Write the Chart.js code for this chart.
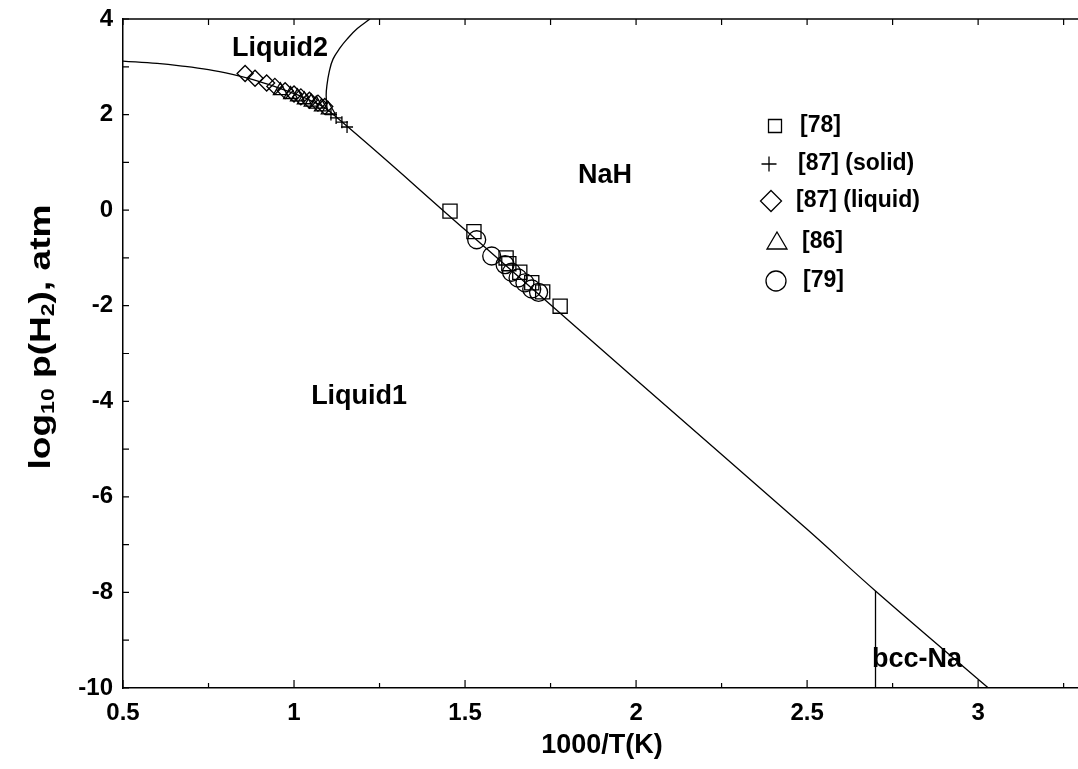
<!DOCTYPE html>
<html>
<head>
<meta charset="utf-8">
<script src="https://cdn.jsdelivr.net/npm/chart.js@4.4.1/dist/chart.umd.min.js"></script>
<style>
  html, body { margin: 0; padding: 0; background: #fff; }
  canvas { display: block; }
</style>
</head>
<body>
<canvas id="phase-chart" width="1078" height="769"></canvas>
<script>
// Axes
const xTicks = [0.5, 1, 1.5, 2, 2.5, 3];
const xMinorTicks = [0.75, 1.25, 1.75, 2.25, 2.75, 3.25];
const yTicks = [-10, -8, -6, -4, -2, 0, 2, 4];
const yMinorTicks = [-9, -7, -5, -3, -1, 1, 3];

// Calculated equilibrium lines
const liquidLineX = [0.5, 0.6, 0.667, 0.75, 0.82, 0.88, 0.95, 1.0, 1.05, 1.1, 1.5, 2.0, 2.5, 2.7, 3.03];
const liquidLineY = [3.12, 3.07, 3.02, 2.94, 2.84, 2.73, 2.57, 2.44, 2.29, 2.09, -0.41, -3.55, -6.68, -7.97, -10.0];

const miscibilityX = [1.097, 1.094, 1.096, 1.103, 1.114, 1.135, 1.155, 1.185, 1.222];
const miscibilityY = [2.09, 2.4, 2.6, 2.9, 3.16, 3.4, 3.58, 3.8, 4.0];

const bccLineX = [2.7, 2.7];
const bccLineY = [-10, -7.97];

// Measured points
const ref78X = [1.456, 1.526, 1.62, 1.628, 1.66, 1.695, 1.727, 1.778];
const ref78Y = [-0.02, -0.45, -1.0, -1.12, -1.3, -1.52, -1.71, -2.01];

const ref87SolidX = [1.108, 1.123, 1.14, 1.155];
const ref87SolidY = [2.0, 1.93, 1.84, 1.74];

const ref87LiquidX = [0.857, 0.886, 0.92, 0.944, 0.974, 1.0, 1.02, 1.045, 1.07, 1.09];
const ref87LiquidY = [2.86, 2.76, 2.66, 2.59, 2.5, 2.43, 2.37, 2.3, 2.24, 2.17];

const ref86X = [0.96, 0.99, 1.01, 1.03, 1.05, 1.065, 1.08, 1.1];
const ref86Y = [2.5, 2.42, 2.37, 2.31, 2.26, 2.22, 2.16, 2.1];

const ref79X = [1.534, 1.578, 1.617, 1.636, 1.655, 1.675, 1.695, 1.715];
const ref79Y = [-0.62, -0.96, -1.14, -1.3, -1.42, -1.52, -1.65, -1.72];

// Phase field names
const regionNames = ["Liquid2", "NaH", "Liquid1", "bcc-Na"];
const regionX = [0.819, 1.83, 1.05, 2.69];
const regionY = [3.22, 0.56, -4.05, -9.56];

const FONT = "'Liberation Sans', Arial, sans-serif";

function toPoints(xs, ys) {
  return xs.map((x, i) => ({ x: x, y: ys[i] }));
}

function lineDataset(xs, ys, smooth) {
  return {
    data: toPoints(xs, ys),
    showLine: true,
    borderColor: "#000",
    borderWidth: 1.3,
    pointRadius: 0,
    tension: smooth ? 0.4 : 0,
    fill: false,
  };
}

function markerDataset(label, xs, ys, style, radius) {
  return {
    label: label,
    data: toPoints(xs, ys),
    showLine: false,
    pointStyle: style,
    pointRadius: radius,
    pointBorderColor: "#000",
    pointBackgroundColor: "rgba(0,0,0,0)",
    pointBorderWidth: 1.3,
  };
}

const markerSets = [
  { label: "[78]", style: "rect", xs: ref78X, ys: ref78Y, r: 10 },
  { label: "[87] (solid)", style: "cross", xs: ref87SolidX, ys: ref87SolidY, r: 6 },
  { label: "[87] (liquid)", style: "rectRot", xs: ref87LiquidX, ys: ref87LiquidY, r: 8 },
  { label: "[86]", style: "triangle", xs: ref86X, ys: ref86Y, r: 8 },
  { label: "[79]", style: "circle", xs: ref79X, ys: ref79Y, r: 9 },
];

// Legend rows (pixel offsets from the canvas)
const legendMarkerX = [775, 769, 771, 777, 776];
const legendTextX = [800, 798, 796, 802, 803];
const legendRowY = [126, 164, 201, 242, 281];

function drawLegendMarker(ctx, style, x, y) {
  ctx.beginPath();
  if (style === "rect") {
    ctx.rect(x - 6.5, y - 6.5, 13, 13);
  } else if (style === "cross") {
    ctx.moveTo(x - 7.5, y);
    ctx.lineTo(x + 7.5, y);
    ctx.moveTo(x, y - 7.5);
    ctx.lineTo(x, y + 7.5);
  } else if (style === "rectRot") {
    ctx.moveTo(x, y - 10.5);
    ctx.lineTo(x + 10.5, y);
    ctx.lineTo(x, y + 10.5);
    ctx.lineTo(x - 10.5, y);
    ctx.closePath();
  } else if (style === "triangle") {
    ctx.moveTo(x, y - 10);
    ctx.lineTo(x + 10, y + 7);
    ctx.lineTo(x - 10, y + 7);
    ctx.closePath();
  } else {
    ctx.arc(x, y, 10, 0, Math.PI * 2);
  }
  ctx.stroke();
}

// Tick marks, frame, titles, region names and legend
const decorations = {
  id: "decorations",
  afterDatasetsDraw(chart) {
    const { ctx, chartArea, scales } = chart;
    const x = scales.x;
    const y = scales.y;
    ctx.save();
    ctx.strokeStyle = "#000";
    ctx.fillStyle = "#000";

    // top frame line
    ctx.lineWidth = 1.5;
    ctx.beginPath();
    ctx.moveTo(chartArea.left, chartArea.top);
    ctx.lineTo(chartArea.right, chartArea.top);
    ctx.stroke();

    ctx.lineWidth = 1.2;
    ctx.beginPath();
    for (const v of xTicks) {
      const px = x.getPixelForValue(v);
      ctx.moveTo(px, chartArea.bottom);
      ctx.lineTo(px, chartArea.bottom - 8);
      ctx.moveTo(px, chartArea.top);
      ctx.lineTo(px, chartArea.top + 6);
    }
    for (const v of xMinorTicks) {
      const px = x.getPixelForValue(v);
      ctx.moveTo(px, chartArea.bottom);
      ctx.lineTo(px, chartArea.bottom - 5);
      ctx.moveTo(px, chartArea.top);
      ctx.lineTo(px, chartArea.top + 6);
    }
    for (const v of yTicks.concat(yMinorTicks)) {
      const py = y.getPixelForValue(v);
      ctx.moveTo(chartArea.left, py);
      ctx.lineTo(chartArea.left + 6, py);
    }
    ctx.stroke();

    // phase field names
    ctx.font = "bold 27px " + FONT;
    ctx.textAlign = "left";
    ctx.textBaseline = "alphabetic";
    regionNames.forEach((name, i) => {
      ctx.fillText(name, x.getPixelForValue(regionX[i]), y.getPixelForValue(regionY[i]));
    });

    // legend
    ctx.lineWidth = 1.3;
    ctx.font = "bold 23px " + FONT;
    ctx.textBaseline = "middle";
    markerSets.forEach((set, i) => {
      drawLegendMarker(ctx, set.style, legendMarkerX[i], legendRowY[i]);
      ctx.fillText(set.label, legendTextX[i], legendRowY[i]);
    });

    // x axis title
    ctx.textAlign = "center";
    ctx.font = "bold 27px " + FONT;
    ctx.fillText("1000/T(K)", 602, 746);

    // y axis title with subscripts, stretched along its length
    ctx.translate(40, 337);
    ctx.rotate(-Math.PI / 2);
    const parts = [
      { t: "log", sub: false },
      { t: "10", sub: true },
      { t: " p(H", sub: false },
      { t: "2", sub: true },
      { t: "), atm", sub: false },
    ];
    const big = "bold 29px " + FONT;
    const small = "bold 18px " + FONT;
    let total = 0;
    for (const p of parts) {
      ctx.font = p.sub ? small : big;
      total += ctx.measureText(p.t).width;
    }
    ctx.scale(265 / total, 1);
    let cx = -total / 2;
    ctx.textAlign = "left";
    ctx.textBaseline = "alphabetic";
    for (const p of parts) {
      ctx.font = p.sub ? small : big;
      ctx.fillText(p.t, cx, p.sub ? 14 : 10);
      cx += ctx.measureText(p.t).width;
    }
    ctx.restore();
  },
};

const datasets = [
  lineDataset(liquidLineX, liquidLineY, true),
  lineDataset(miscibilityX, miscibilityY, true),
  lineDataset(bccLineX, bccLineY, false),
];
for (const set of markerSets) {
  datasets.push(markerDataset(set.label, set.xs, set.ys, set.style, set.r));
}

const canvas = document.getElementById("phase-chart");
new Chart(canvas, {
  type: "scatter",
  data: { datasets: datasets },
  options: {
    responsive: false,
    animation: false,
    devicePixelRatio: 1,
    layout: {
      autoPadding: false,
      padding: { top: 19, right: 0, left: 0, bottom: 0 },
    },
    plugins: {
      legend: { display: false },
      tooltip: { enabled: false },
    },
    scales: {
      x: {
        type: "linear",
        min: 0.5,
        max: 3.292,
        afterFit(scale) {
          scale.height = 81;
          scale.paddingLeft = 0;
          scale.paddingRight = 0;
        },
        afterBuildTicks(scale) {
          scale.ticks = xTicks.map((v) => ({ value: v }));
        },
        grid: { display: false, drawTicks: false, tickLength: 0 },
        border: { display: true, color: "#000", width: 1.5 },
        ticks: {
          autoSkip: false,
          maxRotation: 0,
          padding: 11,
          color: "#000",
          font: { family: FONT, size: 24, weight: "bold" },
          callback: (v) => String(v),
        },
      },
      y: {
        type: "linear",
        min: -10,
        max: 4,
        afterFit(scale) {
          scale.width = 123;
          scale.paddingTop = 0;
          scale.paddingBottom = 0;
        },
        afterBuildTicks(scale) {
          scale.ticks = yTicks.map((v) => ({ value: v }));
        },
        grid: { display: false, drawTicks: false, tickLength: 0 },
        border: { display: true, color: "#000", width: 1.5 },
        ticks: {
          autoSkip: false,
          padding: 10,
          color: "#000",
          font: { family: FONT, size: 24, weight: "bold" },
          callback: (v) => String(v),
        },
      },
    },
  },
  plugins: [decorations],
});
</script>
</body>
</html>
